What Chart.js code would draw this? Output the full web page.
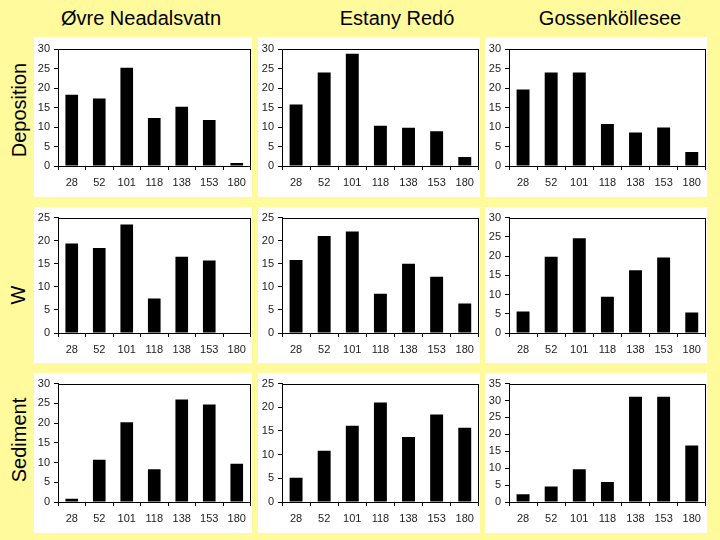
<!DOCTYPE html>
<html>
<head>
<meta charset="utf-8">
<script src="https://cdn.jsdelivr.net/npm/chart.js@4"></script>
<style>
  body { margin: 0; width: 720px; height: 540px; background: #fffa9c; position: relative; overflow: hidden;
         font-family: "Liberation Sans", Arial, sans-serif; }
  .panel { position: absolute; background: #fff; }
  .title { position: absolute; top: 7px; font-size: 20px; color: #000; white-space: nowrap; transform: translateX(-50%); }
  .rowlabel { position: absolute; font-size: 20px; color: #000; white-space: nowrap;
              transform: translate(-50%, -50%) rotate(-90deg); }
</style>
</head>
<body>
<div class="title" style="left:141px">Øvre Neadalsvatn</div>
<div class="title" style="left:397px">Estany Redó</div>
<div class="title" style="left:610px">Gossenköllesee</div>
<div class="rowlabel" style="left:19px; top:110px">Deposition</div>
<div class="rowlabel" style="left:18px; top:295px">W</div>
<div class="rowlabel" style="left:19px; top:440px">Sediment</div>

<script>
// categories on the x axis
const categories = ['28', '52', '101', '118', '138', '153', '180'];

// Deposition
const depositionOvre   = [18.3, 17.3, 25.2, 12.3, 15.2, 11.8, 0.8];
const depositionRedo   = [15.8, 24.0, 28.8, 10.3, 9.8, 8.9, 2.3];
const depositionGossen = [19.6, 24.0, 24.0, 10.8, 8.6, 9.9, 3.6];

// W (water)
const waterOvre   = [19.4, 18.4, 23.5, 7.5, 16.5, 15.7, 0];
const waterRedo   = [15.8, 21.0, 22.0, 8.5, 15.0, 12.2, 6.4];
const waterGossen = [5.6, 19.8, 24.6, 9.4, 16.3, 19.6, 5.3];

// Sediment
const sedimentOvre   = [0.8, 10.7, 20.2, 8.3, 26.0, 24.7, 9.7];
const sedimentRedo   = [5.1, 10.8, 16.1, 21.0, 13.7, 18.5, 15.7];
const sedimentGossen = [2.3, 4.6, 9.7, 5.9, 31.1, 31.1, 16.7];

// y axis maxima per panel (row by row)
const yMaxDeposition = [30, 30, 30];
const yMaxWater      = [25, 25, 30];
const yMaxSediment   = [30, 25, 35];

const rows = [
  [depositionOvre, depositionRedo, depositionGossen],
  [waterOvre, waterRedo, waterGossen],
  [sedimentOvre, sedimentRedo, sedimentGossen]
];
const rowMax = [yMaxDeposition, yMaxWater, yMaxSediment];

// panel boxes
const colLeft = [34, 258, 485];
const colWidth = [218, 222, 222];
const rowTop = [37, 207, 373];
const rowHeight = [160, 156, 160];
const rowPadTop = [12, 9, 10];
const rowAxisH = [31, 30, 31];

const frame = {
  id: 'frame',
  afterDraw(chart) {
    const a = chart.chartArea, c = chart.ctx;
    c.save();
    c.strokeStyle = '#000';
    c.lineWidth = 1;
    c.strokeRect(Math.round(a.left) + 0.5, Math.round(a.top) + 0.5,
                 Math.round(a.right - a.left) - 1, Math.round(a.bottom - a.top));
    c.restore();
  }
};

rows.forEach((row, r) => {
  row.forEach((values, col) => {
    const div = document.createElement('div');
    div.className = 'panel';
    div.style.left = colLeft[col] + 'px';
    div.style.top = rowTop[r] + 'px';
    div.style.width = colWidth[col] + 'px';
    div.style.height = rowHeight[r] + 'px';
    const cv = document.createElement('canvas');
    div.appendChild(cv);
    document.body.appendChild(div);

    new Chart(cv, {
      type: 'bar',
      data: {
        labels: categories,
        datasets: [{
          data: values,
          backgroundColor: '#000',
          borderWidth: 0,
          barPercentage: 0.46,
          categoryPercentage: 1.0
        }]
      },
      options: {
        responsive: true,
        maintainAspectRatio: false,
        animation: false,
        layout: { padding: { top: rowPadTop[r], right: 1, left: 0, bottom: 0 } },
        plugins: { legend: { display: false }, tooltip: { enabled: false } },
        scales: {
          x: {
            grid: { drawOnChartArea: false, drawTicks: true, tickLength: 4, color: '#000' },
            border: { color: '#000' },
            ticks: { color: '#222', font: { family: 'Liberation Sans', size: 11 }, padding: 6, maxRotation: 0 },
            afterFit: s => { s.height = rowAxisH[r]; }
          },
          y: {
            min: 0,
            max: rowMax[r][col],
            grid: { drawOnChartArea: false, drawTicks: true, tickLength: 4, color: '#000' },
            border: { color: '#000' },
            ticks: { stepSize: 5, color: '#222', font: { family: 'Liberation Sans', size: 11 }, padding: 4 },
            afterFit: s => { s.width = 24; }
          }
        }
      },
      plugins: [frame]
    });
  });
});
</script>
</body>
</html>
